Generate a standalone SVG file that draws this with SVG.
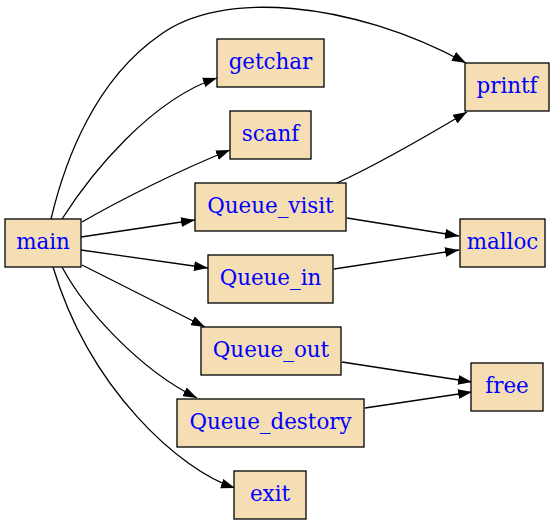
<svg xmlns="http://www.w3.org/2000/svg" width="560" height="525" viewBox="0 0 560 525">
<style>
.n rect{fill:#f5deb3;stroke:#000;stroke-width:1.3}
.n text{font-family:"DejaVu Serif",serif;font-size:21.4px;fill:#0000ff;text-anchor:middle}
.e path{fill:none;stroke:#000;stroke-width:1.3;marker-end:url(#arr)}
</style>
<defs>
<marker id="arr" markerUnits="userSpaceOnUse" markerWidth="14" markerHeight="10" viewBox="0 0 13.3 9.4" refX="13.3" refY="4.7" orient="auto">
<path d="M0,0 L13.3,4.7 L0,9.4 z" fill="#000"/>
</marker>
</defs>
<rect width="560" height="525" fill="#fff"/>
<g id="connectors" class="e">
<path d="M51,219 C65,160 95,80 160,35 C220,-10 350,0 466,63"/>
<path d="M62,219 C90,175 150,100 217,78"/>
<path d="M82,222 C120,200 180,170 230,150"/>
<path d="M81,237 L195,220"/>
<path d="M81,250 L208,268"/>
<path d="M82,265 L205,327"/>
<path d="M62,267 C85,310 140,370 197,398"/>
<path d="M53,267 C90,390 180,470 235,488"/>
<path d="M337,183 C370,168 420,140 467,112"/>
<path d="M347,218 L459,236"/>
<path d="M334,269 L459,250"/>
<path d="M342,362 L472,382"/>
<path d="M365,408 L472,392"/>
</g>
<g id="main" class="n"><rect x="5" y="219" width="76" height="48"/><text x="43" y="249">main</text></g>
<g id="getchar" class="n"><rect x="217" y="39" width="107" height="48"/><text x="270.5" y="69">getchar</text></g>
<g id="scanf" class="n"><rect x="230" y="111" width="81" height="48"/><text x="270.5" y="141">scanf</text></g>
<g id="printf" class="n"><rect x="465" y="63" width="84" height="48"/><text x="507" y="93">printf</text></g>
<g id="Queue_visit" class="n"><rect x="195" y="183" width="151" height="48"/><text x="270.5" y="213">Queue_visit</text></g>
<g id="malloc" class="n"><rect x="460" y="219" width="85" height="48"/><text x="502.5" y="249">malloc</text></g>
<g id="Queue_in" class="n"><rect x="208" y="255" width="125" height="48"/><text x="270.5" y="285">Queue_in</text></g>
<g id="Queue_out" class="n"><rect x="201" y="327" width="140" height="48"/><text x="271" y="357">Queue_out</text></g>
<g id="free" class="n"><rect x="471" y="363" width="72" height="48"/><text x="507" y="393">free</text></g>
<g id="Queue_destory" class="n"><rect x="177" y="399" width="187" height="48"/><text x="270.5" y="429">Queue_destory</text></g>
<g id="exit" class="n"><rect x="234" y="471" width="72" height="48"/><text x="270" y="501">exit</text></g>
</svg>
